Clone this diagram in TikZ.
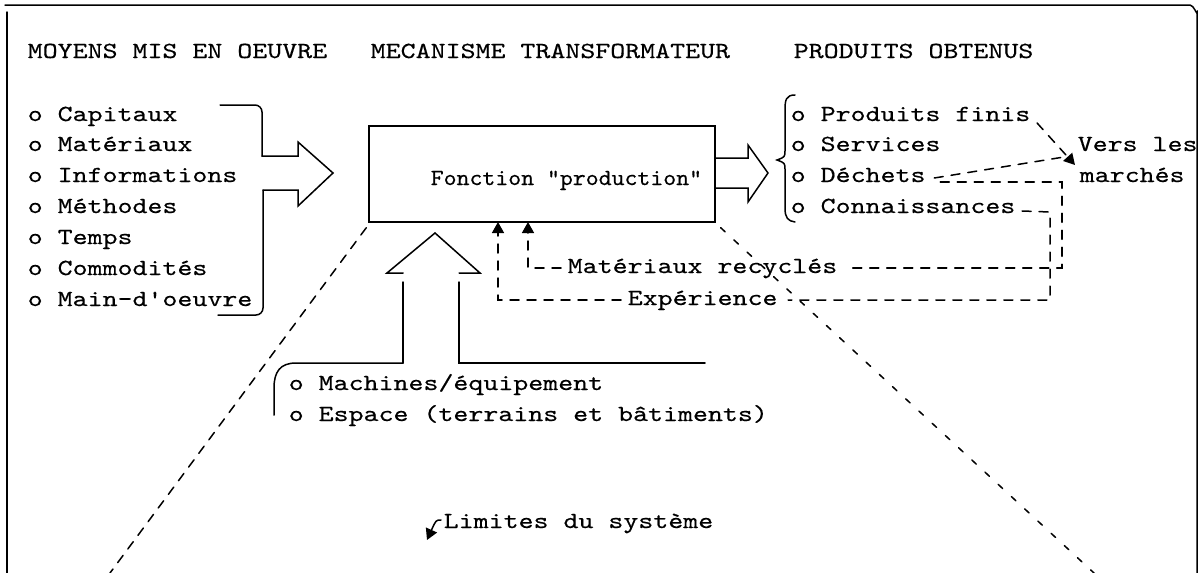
\documentclass[tikz,border=0pt]{standalone}
\usepackage{fontspec}
\newfontfamily\tw{lmmono10-regular.otf}[FakeStretch=1.24,FakeBold=0.4]
\newfontfamily\twn{lmmono10-regular.otf}[FakeStretch=1.07,FakeBold=0.4]
\usetikzlibrary{arrows.meta,calc}
\begin{document}
\begin{tikzpicture}[x=1pt,y=-1pt,line width=1.5pt,line cap=round,
  txt/.style={anchor=base west,inner sep=0pt,font=\tw\fontsize{23}{28}\selectfont},
  ftxt/.style={anchor=base west,inner sep=0pt,font=\twn\fontsize{23}{28}\selectfont},
  dsh/.style={dash pattern=on 9pt off 8pt},
  dshb/.style={dash pattern=on 6pt off 12pt},
  tip/.style={-{Triangle[length=11pt,width=12pt]}}]
\useasboundingbox (0,0) rectangle (1203,573);

% outer frame (open at the bottom)
\draw (5,5) -- (1190,5) to[out=0,in=-90] (1197,12) -- (1197,573);
\draw (7,12) -- (7,573);

% column headings
\node[txt] (h1) at (27,58) {MOYENS MIS EN OEUVRE};
\node[txt] (h2) at (370,58) {MECANISME TRANSFORMATEUR};
\node[txt] (h3) at (793,58) {PRODUITS OBTENUS};

% inputs
\node[txt] (l1) at (27,121) {o Capitaux};
\node[txt] (l2) at (27,151) {o Matériaux};
\node[txt] (l3) at (27,182) {o Informations};
\node[txt] (l4) at (27,213) {o Méthodes};
\node[txt] (l5) at (27,244) {o Temps};
\node[txt] (l6) at (27,275) {o Commodités};
\node[txt] (l7) at (27,306) {o Main-d'oeuvre};

% bracket collecting the inputs into one arrow
\draw[rounded corners=7pt] (220,105) -- (262,105) -- (262,156);
\draw (262,156) -- (298,156) -- (298,142) -- (333,173) -- (298,206) -- (298,190) -- (263,190);
\draw[rounded corners=7pt] (263,190) -- (263,315) -- (218,315);

% transformation box
\node[draw,minimum width=346pt,minimum height=96pt,inner sep=0pt] (box) at (542,174) {};
\node[ftxt] (fn) at (430,185) {Fonction "production"};

% output arrow
\draw (715,158) -- (748,158) -- (748,145) -- (768,173) -- (748,202) -- (748,188) -- (715,188);

% output brace
\draw (795,95) .. controls (786,95) and (785,100) .. (785,110) -- (785,150)
  .. controls (785,157) .. (777,160) .. controls (785,163) .. (785,170) -- (785,208)
  .. controls (785,218) and (788,221) .. (795,222);

% outputs
\node[txt] (r1) at (790,121) {o Produits finis};
\node[txt] (r2) at (790,151) {o Services};
\node[txt] (r3) at (790,182) {o Déchets};
\node[txt] (r4) at (790,213) {o Connaissances};
\node[txt] (m1) at (1077,151) {Vers les};
\node[txt] (m2) at (1079,182) {marchés};

% flows towards the markets
\coordinate (mk) at (1075,165);
\draw[dsh,tip] ($(r1.base east)+(6,2)$) -- (mk);
\draw[dsh] ($(r3.base east)+(8,-4)$) -- (1064,157);

% recycling loops back into the box
\node[txt] (recy) at (567,273) {Matériaux recyclés};
\node[txt] (expe) at (627,305) {Expérience};
\coordinate (inR) at (528,222);
\coordinate (inE) at (498,222);
\draw[dsh] ($(r3.base east)+(14,0)$) -- (1062,182) -- (1062,268) -- ($(recy.base east)+(10,-5)$);
\draw[dsh,tip] ($(recy.base west)+(-6,-5)$) -- (528,268) -- (inR);
\draw[dsh] ($(r4.base east)+(6,-2)$) -- (1050,212) -- (1050,300) -- ($(expe.base east)+(10,-5)$);
\draw[dsh,tip] ($(expe.base west)+(-6,-5)$) -- (498,300) -- (inE);

% fixed means: upward arrow
\draw (403,273) -- (387,273) -- (435,233) -- (480,273) -- (459,273);
\draw (403,282) -- (403,363);
\draw (459,282) -- (459,363) -- (705,363);
\draw (403,363) -- (296,363) .. controls (280,363) and (274,372) .. (274,388) -- (274,415);
\node[txt] (k1) at (288,390) {o Machines/équipement};
\node[txt] (k2) at (288,421) {o Espace (terrains et bâtiments)};

% system limits
\coordinate (dl) at (110,573);
\coordinate (dr) at (1094,573);
\draw[dsh] ($(box.south west)+(-2,5)$) -- (dl);
\draw[dshb] ($(box.south east)+(5,5)$) -- (dr);
\node[txt] (lim) at (443,528) {Limites du système};
\draw[tip] ($(lim.base west)+(-2,-8)$) .. controls (436,520) .. (427,540);
\end{tikzpicture}
\end{document}
